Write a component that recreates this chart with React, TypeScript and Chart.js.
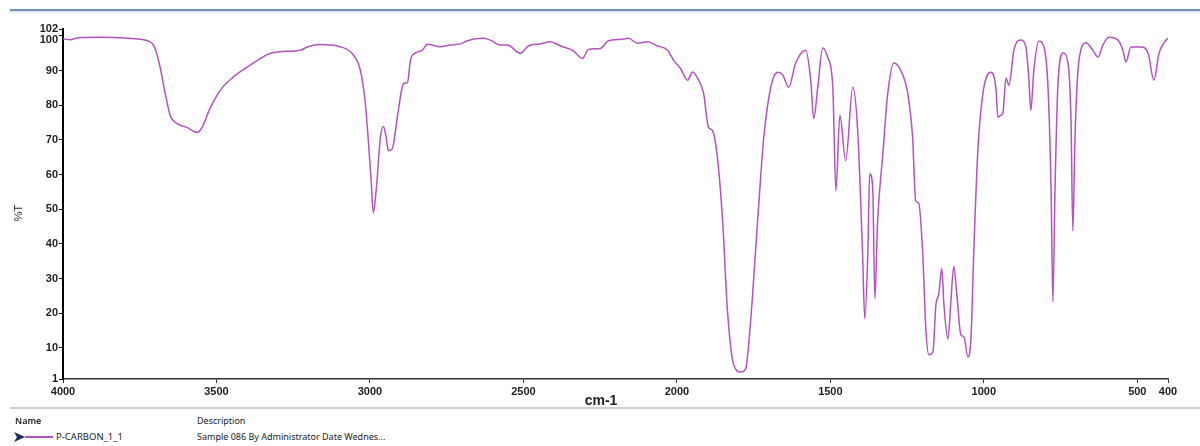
import React, { useEffect, useRef } from "react";
import { Chart, registerables } from "chart.js";

Chart.register(...registerables);

// IR spectrum sample: wavenumber (cm-1) and transmittance (%T)
const wavenumbers = [
  4000, 3977, 3950, 3879, 3788, 3716, 3700, 3684, 3667, 3651, 3628, 3596, 3563, 3547, 3521, 3488,
  3446, 3390, 3315, 3227, 3204, 3162, 3097, 3054, 3031, 3015, 3005, 2996, 2989, 2979, 2966, 2956,
  2947, 2940, 2927, 2911, 2895, 2888, 2878, 2868, 2852, 2829, 2813, 2771, 2738, 2705, 2683, 2630,
  2608, 2575, 2552, 2510, 2484, 2445, 2412, 2379, 2337, 2308, 2288, 2249, 2223, 2184, 2158, 2128,
  2096, 2063, 2030, 2011, 1988, 1965, 1949, 1929, 1913, 1897, 1884, 1867, 1851, 1835, 1815, 1792,
  1776, 1760, 1737, 1717, 1694, 1672, 1655, 1636, 1613, 1580, 1564, 1554, 1541, 1525, 1509, 1492,
  1482, 1469, 1450, 1427, 1411, 1395, 1388, 1378, 1372, 1362, 1355, 1346, 1329, 1313, 1293, 1271,
  1248, 1232, 1222, 1212, 1199, 1189, 1179, 1166, 1156, 1147, 1137, 1130, 1117, 1108, 1098, 1088,
  1075, 1065, 1052, 1042, 1033, 1020, 1003, 977, 961, 954, 945, 938, 928, 918, 902, 879,
  863, 853, 847, 837, 821, 804, 791, 781, 775, 768, 759, 742, 726, 716, 710, 703,
  690, 667, 645, 628, 612, 592, 563, 547, 537, 521, 488, 465, 446, 429, 413, 400,
];

const transmittance = [
  99.2, 98.9, 99.5, 99.6, 99.3, 98.3, 96.4, 91.1, 83.4, 77.1, 74.7, 73.6, 72.1, 73.6, 79.1, 84.3,
  88.1, 91.6, 95.2, 95.9, 96.8, 97.5, 96.9, 94.5, 90.0, 80.5, 69.5, 58.2, 48.9, 56.2, 70.7, 73.9,
  70.7, 66.9, 67.5, 76.5, 85.2, 86.4, 86.4, 93.0, 95.1, 95.9, 97.6, 96.9, 97.4, 97.7, 98.6, 99.3,
  98.8, 97.4, 97.4, 95.0, 97.1, 97.7, 98.3, 97.1, 95.7, 93.5, 96.1, 96.4, 98.6, 99.0, 99.3, 97.9,
  98.3, 97.1, 95.9, 93.0, 90.6, 87.2, 89.6, 87.2, 83.4, 73.6, 72.7, 64.0, 46.6, 20.4, 5.1, 3.0,
  3.9, 17.5, 46.6, 70.7, 85.2, 89.5, 88.7, 85.2, 92.2, 95.9, 87.2, 76.2, 85.2, 96.5, 93.9, 85.2,
  55.3, 77.1, 64.0, 85.2, 72.7, 37.0, 18.4, 37.0, 60.2, 56.2, 24.2, 46.6, 66.0, 83.4, 92.2, 90.1,
  83.4, 70.7, 52.4, 51.8, 37.0, 15.5, 8.0, 8.8, 22.5, 25.4, 32.9, 22.5, 12.6, 22.5, 33.5, 25.4,
  13.8, 13.2, 7.4, 12.6, 37.0, 66.0, 83.4, 89.5, 85.2, 76.5, 77.1, 77.6, 87.8, 85.8, 95.9, 98.8,
  96.8, 87.2, 78.5, 90.1, 98.5, 96.8, 85.2, 56.2, 23.3, 56.2, 85.2, 95.1, 92.2, 75.6, 43.7, 70.7,
  93.0, 98.0, 95.9, 93.9, 97.4, 99.6, 98.8, 95.9, 92.5, 96.8, 96.8, 95.1, 87.2, 95.1, 98.0, 99.4,
];

const xTickValues = [4000, 3500, 3000, 2500, 2000, 1500, 1000, 500, 400];
const yTickValues = [1, 10, 20, 30, 40, 50, 60, 70, 80, 90, 100, 102];

const seriesName = "P-CARBON_1_1";
const seriesDescription = "Sample 086 By Administrator Date Wednes...";
const lineColor = "#b452c0";

const tickFont = "bold 11px 'Liberation Sans', Arial, sans-serif";

// Left axis labels drawn beside each tick; "100" is nudged down so it clears "102".
const yLabelPlugin = {
  id: "yLabels",
  afterDraw(chart: any) {
    const ys = chart.scales.y;
    const ctx = chart.ctx;
    ctx.save();
    ctx.font = tickFont;
    ctx.fillStyle = "#1e1e1e";
    ctx.textAlign = "right";
    ctx.textBaseline = "middle";
    for (const v of yTickValues) {
      const y = ys.getPixelForValue(v) + (v === 100 ? 4 : 0);
      ctx.fillText(String(v), ys.right - 5, y);
    }
    ctx.restore();
  },
};

export default function App() {
  const canvasRef = useRef<HTMLCanvasElement>(null);

  useEffect(() => {
    const points = wavenumbers.map((w, i) => ({ x: w, y: transmittance[i] }));
    const chart = new Chart(canvasRef.current as HTMLCanvasElement, {
      type: "line",
      data: {
        datasets: [
          {
            label: seriesName,
            data: points,
            borderColor: lineColor,
            borderWidth: 1.5,
            pointRadius: 0,
            fill: false,
            cubicInterpolationMode: "monotone",
          },
        ],
      },
      options: {
        animation: false,
        responsive: false,
        events: [],
        layout: { padding: { top: 29, right: 32, left: 0, bottom: 0 } },
        plugins: { legend: { display: false }, tooltip: { enabled: false } },
        scales: {
          x: {
            type: "linear",
            reverse: true,
            min: 400,
            max: 4000,
            afterBuildTicks: (s: any) => {
              s.ticks = xTickValues.map((v) => ({ value: v }));
            },
            afterFit: (s: any) => {
              s.height = 26;
            },
            ticks: {
              autoSkip: false,
              maxRotation: 0,
              padding: 2,
              color: "#1e1e1e",
              font: { family: "'Liberation Sans', Arial, sans-serif", size: 11, weight: "bold" },
              callback: (v: any) => String(v),
            },
            grid: { drawOnChartArea: false, drawTicks: true, tickLength: 4, color: "#333" },
            border: { display: true, color: "#333", width: 1.5 },
          },
          y: {
            min: 1,
            max: 102,
            afterBuildTicks: (s: any) => {
              s.ticks = yTickValues.map((v) => ({ value: v }));
            },
            afterFit: (s: any) => {
              s.width = 63;
            },
            ticks: { display: false },
            grid: { drawOnChartArea: false, drawTicks: true, tickLength: 4, color: "#111" },
            border: { display: true, color: "#000", width: 2 },
          },
        },
      },
      plugins: [yLabelPlugin],
    } as any);
    return () => chart.destroy();
  }, []);

  const uiFont = "'Noto Sans', 'Open Sans', sans-serif";

  return (
    <div
      style={{
        position: "absolute",
        left: 0,
        top: 0,
        width: 1200,
        height: 446,
        background: "#ffffff",
        overflow: "hidden",
      }}
    >
      {/* window header rule */}
      <div style={{ position: "absolute", left: 10, top: 9, width: 1190, height: 2, background: "#7391b3" }} />
      <div style={{ position: "absolute", left: 10, top: 11, width: 1190, height: 2, background: "#dfe8f2" }} />

      <canvas ref={canvasRef} width={1200} height={405} style={{ position: "absolute", left: 0, top: 0 }} />

      {/* axis titles */}
      <div
        style={{
          position: "absolute",
          left: 18,
          top: 213,
          transform: "translate(-50%, -50%) rotate(-90deg)",
          font: "11px 'Liberation Sans', Arial, sans-serif",
          color: "#1e1e1e",
          whiteSpace: "nowrap",
        }}
      >
        %T
      </div>
      <div
        style={{
          position: "absolute",
          left: 601,
          top: 400,
          transform: "translate(-50%, -50%)",
          font: "bold 14px 'Liberation Sans', Arial, sans-serif",
          color: "#1e1e1e",
          whiteSpace: "nowrap",
        }}
      >
        cm-1
      </div>

      {/* series table */}
      <div style={{ position: "absolute", left: 10, top: 407, width: 1190, height: 2, background: "#cfcfcf" }} />
      <div
        style={{
          position: "absolute",
          left: 15,
          top: 414,
          font: `600 9px ${uiFont}`,
          color: "#222",
        }}
      >
        Name
      </div>
      <div
        style={{
          position: "absolute",
          left: 197,
          top: 414,
          font: `9px ${uiFont}`,
          color: "#222",
        }}
      >
        Description
      </div>
      <svg style={{ position: "absolute", left: 13, top: 431 }} width={42} height={12}>
        <path d="M1 1 L12 6 L1 11 L4 6 Z" fill="#1b2a5c" />
        <line x1={12} y1={6} x2={40} y2={6} stroke={lineColor} strokeWidth={2} />
      </svg>
      <div
        style={{
          position: "absolute",
          left: 56,
          top: 430,
          font: `9.5px ${uiFont}`,
          color: "#222",
          whiteSpace: "nowrap",
        }}
      >
        {seriesName}
      </div>
      <div
        style={{
          position: "absolute",
          left: 197,
          top: 430,
          font: `9px ${uiFont}`,
          color: "#222",
          whiteSpace: "nowrap",
        }}
      >
        {seriesDescription}
      </div>
    </div>
  );
}
